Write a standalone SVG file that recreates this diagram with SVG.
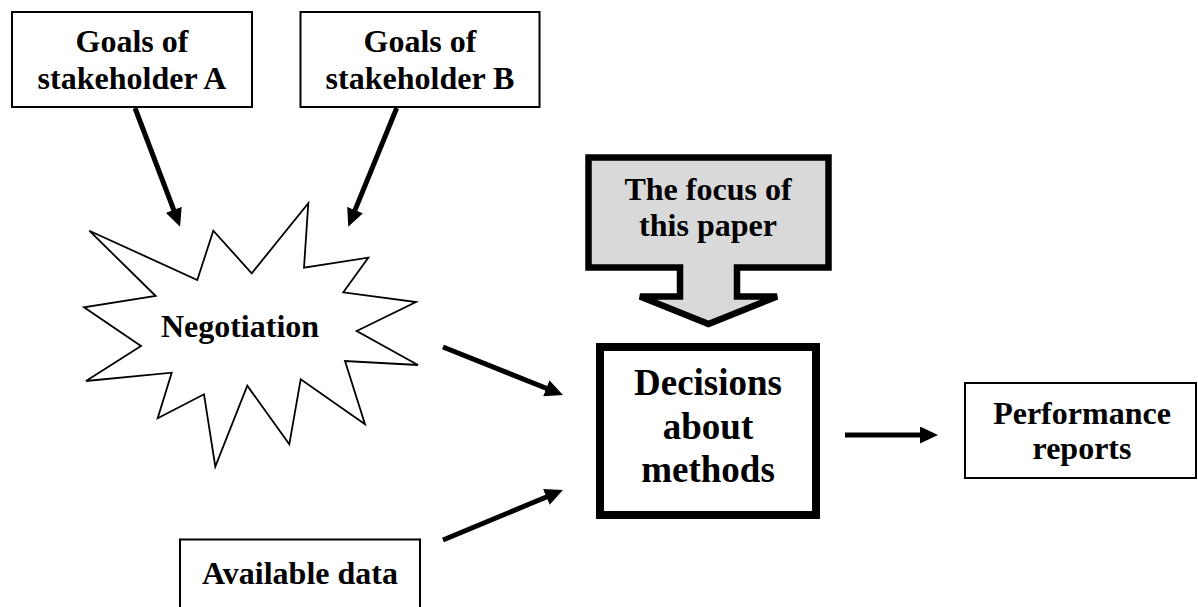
<svg xmlns="http://www.w3.org/2000/svg" width="1198" height="607" viewBox="0 0 1198 607">
  <defs>
    <style>
      .box { fill: #ffffff; stroke: #000000; stroke-width: 2; }
      .thick { fill: #ffffff; stroke: #000000; stroke-width: 8; }
      .callout { fill: #d9d9d9; stroke: #000000; stroke-width: 6.5; stroke-linejoin: miter; }
      .burst { fill: #ffffff; stroke: #000000; stroke-width: 1.8; stroke-linejoin: miter; }
      .lbl { font-family: "Liberation Serif", "Times New Roman", serif; font-weight: bold; font-size: 32px; fill: #000000; text-anchor: middle; }
      .big { font-size: 37px; }
      .conn { stroke: #000000; stroke-width: 5; fill: none; marker-end: url(#head); }
    </style>
    <marker id="head" markerUnits="userSpaceOnUse" markerWidth="18" markerHeight="17" refX="2" refY="8.5" orient="auto">
      <path d="M0,0 L18,8.5 L0,17 Z" fill="#000000"/>
    </marker>
  </defs>

  <rect width="1198" height="607" fill="#ffffff"/>

  <!-- connectors -->
  <g id="connectors">
    <line class="conn" x1="135" y1="108" x2="174.4" y2="211.7"/>
    <line class="conn" x1="396.7" y1="108" x2="354.3" y2="211.9"/>
    <line class="conn" x1="443" y1="347" x2="548.1" y2="389"/>
    <line class="conn" x1="443" y1="540" x2="548.2" y2="496.2"/>
    <line class="conn" x1="845" y1="435" x2="922" y2="435"/>
  </g>

  <g id="goals-a">
    <rect class="box" x="12" y="12" width="240" height="95"/>
    <text class="lbl" x="132" y="52">Goals of</text>
    <text class="lbl" x="132" y="88.5">stakeholder A</text>
  </g>

  <g id="goals-b">
    <rect class="box" x="300.5" y="12" width="239" height="95"/>
    <text class="lbl" x="420" y="52">Goals of</text>
    <text class="lbl" x="420" y="88.5">stakeholder B</text>
  </g>

  <g id="negotiation">
    <polygon class="burst" points="89.3,230.7 197.3,280 213.3,230.7 251.7,273.3 308.3,203.3 304,267.7 368.3,257.7 343.3,292.3 416,302 356.7,331 418,365 345,361 365,424.3 300.7,379.3 289.3,444.3 247.3,385.7 215.3,466.7 204,394.3 157.7,418.3 171.7,372.7 86,381 141,346 84,307.3 155.7,296"/>
    <text class="lbl" x="240" y="336.5">Negotiation</text>
  </g>

  <g id="focus">
    <path class="callout" d="M588.5,157.5 H828.5 V267.5 H737 V296.5 H777 L708.5,324 L640,296.5 H680 V267.5 H588.5 Z"/>
    <text class="lbl" x="708" y="199.5">The focus of</text>
    <text class="lbl" x="708" y="236">this paper</text>
  </g>

  <g id="decisions">
    <rect class="thick" x="600" y="347" width="216" height="168"/>
    <text class="lbl big" x="708" y="395">Decisions</text>
    <text class="lbl big" x="708" y="438.5">about</text>
    <text class="lbl big" x="708" y="482">methods</text>
  </g>

  <g id="performance">
    <rect class="box" x="965" y="383" width="231" height="95"/>
    <text class="lbl" x="1082" y="423.5">Performance</text>
    <text class="lbl" x="1082" y="459">reports</text>
  </g>

  <g id="available-data">
    <rect class="box" x="180" y="539.5" width="240" height="80"/>
    <text class="lbl" x="300" y="584">Available data</text>
  </g>
</svg>
